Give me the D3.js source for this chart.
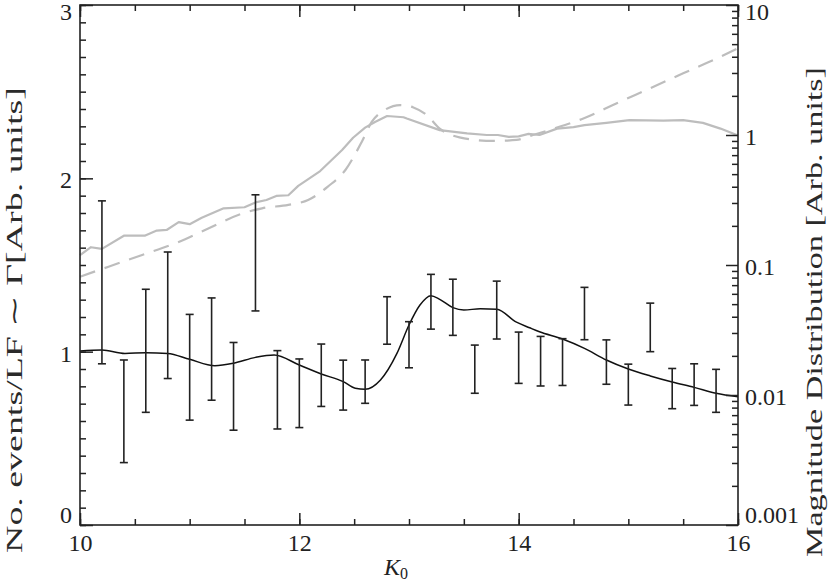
<!DOCTYPE html>
<html>
<head>
<meta charset="utf-8">
<script src="https://cdn.jsdelivr.net/npm/d3@7"></script>
<style>
  html, body { margin: 0; padding: 0; background: #fff; }
  svg text { font-family: "Liberation Serif", "Times New Roman", serif; fill: #222; }
</style>
</head>
<body>
<svg id="chart" width="830" height="583"></svg>
<script>
// ---------- data ----------
const binK = [10.2,10.4,10.6,10.8,11.0,11.2,11.4,11.6,11.8,12.0,12.2,12.4,12.6,12.8,13.0,
              13.2,13.4,13.6,13.8,14.0,14.2,14.4,14.6,14.8,15.0,15.2,15.4,15.6,15.8];
const binCounts = [1.40,0.656,1.005,1.21,0.91,1.015,0.80,1.57,0.78,0.76,0.864,0.807,0.827,1.18,1.04,
                   1.288,1.256,0.899,1.24,0.965,0.945,0.94,1.22,0.94,0.81,1.14,0.787,0.81,0.774];
const binErrors = [0.47,0.296,0.355,0.365,0.305,0.295,0.253,0.335,0.226,0.198,0.18,0.144,0.125,0.137,0.133,
                   0.158,0.162,0.139,0.167,0.148,0.143,0.135,0.151,0.128,0.118,0.14,0.116,0.12,0.124];

const ratioK    = [10.0,10.2,10.41,10.6,10.8,11.0,11.23,11.4,11.6,11.77,12.0,12.2,12.4,12.51,12.6,12.74,
                   12.89,13.0,13.1,13.2,13.28,13.4,13.5,13.65,13.8,13.98,14.1,14.19,14.4,14.6,14.8,
                   15.0,15.2,15.4,15.6,15.8,16.0];
const ratioVals = [1.004,1.01,0.99,0.994,0.99,0.956,0.919,0.933,0.967,0.981,0.923,0.871,0.827,0.789,0.783,0.837,
                   0.99,1.154,1.269,1.323,1.302,1.254,1.240,1.248,1.245,1.170,1.138,1.115,1.073,1.019,0.952,
                   0.900,0.860,0.825,0.794,0.760,0.740];

const lfK    = [10.0,10.10,10.20,10.40,10.59,10.70,10.79,10.90,11.00,11.11,11.31,11.50,11.60,11.70,11.79,11.90,
                11.99,12.19,12.39,12.49,12.60,12.69,12.80,12.95,12.98,13.28,13.53,13.71,13.81,13.91,14.00,
                14.09,14.19,14.35,14.50,14.60,14.80,15.01,15.32,15.50,15.68,15.84,16.0];
const lfVals = [0.119,0.137,0.133,0.168,0.168,0.184,0.186,0.214,0.206,0.231,0.273,0.278,0.303,0.316,0.340,0.344,
                0.406,0.528,0.767,0.953,1.14,1.26,1.40,1.37,1.34,1.09,1.03,1.0,1.0,0.966,0.977,
                1.02,1.0,1.12,1.15,1.19,1.24,1.30,1.29,1.30,1.24,1.12,0.99];

const magK    = [10.0,10.26,10.56,10.87,11.17,11.47,11.66,11.90,12.08,12.26,12.42,12.57,12.66,12.78,12.92,
                 13.04,13.16,13.28,13.46,13.77,13.98,14.13,14.32,14.59,14.89,15.20,15.50,15.81,16.0];
const magVals = [0.0813,0.097,0.119,0.147,0.191,0.247,0.273,0.290,0.316,0.401,0.538,0.889,1.26,1.56,1.70,
                 1.63,1.43,1.12,0.96,0.90,0.916,1.0,1.12,1.34,1.75,2.29,2.98,3.89,4.65];

const xTickVals   = [10,12,14,16];
const leftTickVals  = [0,1,2,3];
const rightTickVals = [0.001,0.01,0.1,1,10];
const rightTickLabels = ["0.001","0.01","0.1","1","10"];

// ---------- layout ----------
const L = 80, R = 738, T = 5, B = 525;
const svg = d3.select("#chart");

const x  = d3.scaleLinear().domain([10,16]).range([L,R]);
const yL = d3.scaleLinear().domain([0,3]).range([B,T]);
const yR = d3.scaleLog().domain([0.001,10]).range([B,T]);

const gray = "#bdbdbd";

// gray solid (LF)
svg.append("path")
  .datum(lfK.map((k,i)=>[k,lfVals[i]]))
  .attr("fill","none").attr("stroke",gray).attr("stroke-width",2.2)
  .attr("stroke-linejoin","round")
  .attr("d", d3.line().x(d=>x(d[0])).y(d=>yR(d[1])));

// gray dashed (magnitude)
svg.append("path")
  .datum(magK.map((k,i)=>[k,magVals[i]]))
  .attr("fill","none").attr("stroke",gray).attr("stroke-width",2.2)
  .attr("stroke-dasharray","16,10")
  .attr("d", d3.line().curve(d3.curveMonotoneX).x(d=>x(d[0])).y(d=>yR(d[1])));

// black smooth ratio curve
svg.append("path")
  .datum(ratioK.map((k,i)=>[k,ratioVals[i]]))
  .attr("fill","none").attr("stroke","#111").attr("stroke-width",1.5)
  .attr("d", d3.line().curve(d3.curveMonotoneX).x(d=>x(d[0])).y(d=>yL(d[1])));

// error bars
const eb = svg.append("g").attr("stroke","#222").attr("stroke-width",1.6);
binK.forEach((k,i)=>{
  const cx = x(k), lo = yL(binCounts[i]-binErrors[i]), hi = yL(binCounts[i]+binErrors[i]);
  eb.append("line").attr("x1",cx).attr("x2",cx).attr("y1",lo).attr("y2",hi);
  eb.append("line").attr("x1",cx-4).attr("x2",cx+4).attr("y1",lo).attr("y2",lo);
  eb.append("line").attr("x1",cx-4).attr("x2",cx+4).attr("y1",hi).attr("y2",hi);
});

// ---------- axes ----------
function styleAxis(g){
  g.select(".domain").remove();
  g.selectAll(".tick line").attr("stroke","#222").attr("stroke-width",1.5);
  g.selectAll("text").attr("font-size",24).attr("fill","#222");
}
const minorX = d3.range(10,16.01,0.5);
const minorL = d3.range(0,3.001,0.1);
const minorR = [];
[0.001,0.01,0.1,1].forEach(d=>{ for(let m=2;m<=9;m++) minorR.push(d*m); });

// bottom
svg.append("g").attr("transform",`translate(0,${B})`)
  .call(d3.axisBottom(x).tickValues(minorX).tickSizeInner(-6).tickSizeOuter(0).tickFormat(""))
  .call(styleAxis);
svg.append("g").attr("transform",`translate(0,${B})`)
  .call(d3.axisBottom(x).tickValues(xTickVals).tickSizeInner(-12).tickSizeOuter(0).tickPadding(9).tickFormat(d3.format("d")))
  .call(styleAxis);
// top
svg.append("g").attr("transform",`translate(0,${T})`)
  .call(d3.axisTop(x).tickValues(minorX).tickSizeInner(-6).tickSizeOuter(0).tickFormat(""))
  .call(styleAxis);
svg.append("g").attr("transform",`translate(0,${T})`)
  .call(d3.axisTop(x).tickValues(xTickVals).tickSizeInner(-12).tickSizeOuter(0).tickFormat(""))
  .call(styleAxis);
// left
svg.append("g").attr("transform",`translate(${L},0)`)
  .call(d3.axisLeft(yL).tickValues(minorL).tickSizeInner(-6).tickSizeOuter(0).tickFormat(""))
  .call(styleAxis);
const gLeft = svg.append("g").attr("transform",`translate(${L},0)`)
  .call(d3.axisLeft(yL).tickValues(leftTickVals).tickSizeInner(-13).tickSizeOuter(0).tickPadding(8).tickFormat(d3.format("d")))
  .call(styleAxis);
gLeft.selectAll(".tick text").attr("dy", d => d===0 ? "-0.1em" : d===3 ? "0.6em" : "0.4em");
// right
svg.append("g").attr("transform",`translate(${R},0)`)
  .call(d3.axisRight(yR).tickValues(minorR).tickSizeInner(-6).tickSizeOuter(0).tickFormat(""))
  .call(styleAxis);
const gRight = svg.append("g").attr("transform",`translate(${R},0)`)
  .call(d3.axisRight(yR).tickValues(rightTickVals).tickSizeInner(-12).tickSizeOuter(0).tickPadding(7)
        .tickFormat((d,i)=>rightTickLabels[i]))
  .call(styleAxis);
gRight.selectAll(".tick text").attr("dy", d => d===0.001 ? "-0.1em" : d===10 ? "0.6em" : "0.4em");

// frame
svg.append("rect").attr("x",L).attr("y",T).attr("width",R-L).attr("height",B-T)
  .attr("fill","none").attr("stroke","#222").attr("stroke-width",1.6);

// ---------- titles ----------
svg.append("text")
  .attr("transform",`translate(22,320) rotate(-90)`)
  .attr("text-anchor","middle").attr("font-size",23).style("fill","#2a2a2a")
  .attr("textLength",466).attr("lengthAdjust","spacingAndGlyphs")
  .text("No. events/LF \u223C \u0393[Arb. units]");

svg.append("text")
  .attr("transform",`translate(822,312) rotate(-90)`)
  .attr("text-anchor","middle").attr("font-size",23).style("fill","#2a2a2a")
  .attr("textLength",490).attr("lengthAdjust","spacingAndGlyphs")
  .text("Magnitude Distribution [Arb. units]");

const xl = svg.append("text").attr("x",396).attr("y",575).attr("text-anchor","middle").attr("font-size",24);
xl.append("tspan").attr("font-style","italic").text("K");
xl.append("tspan").attr("font-size",16).attr("dy",4).text("0");
</script>
</body>
</html>
